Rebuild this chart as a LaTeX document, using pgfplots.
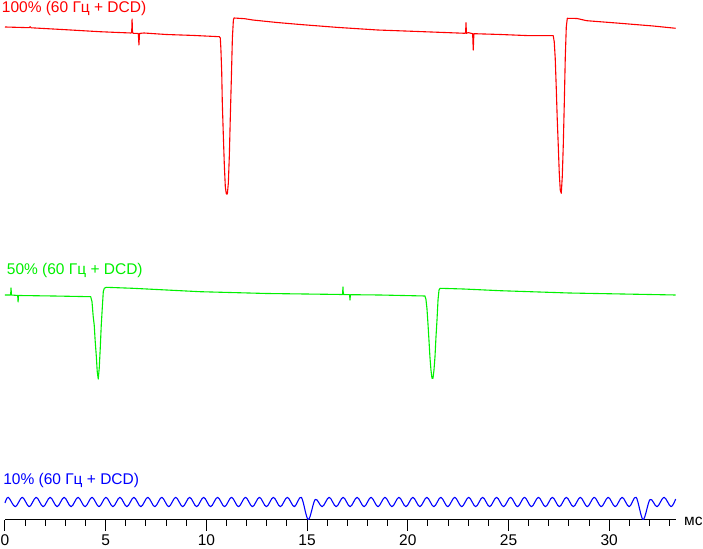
\documentclass[border=0pt]{standalone}
\usepackage{pgfplots}
\pgfplotsset{compat=1.18}
\usepackage{fontspec}
\setmainfont{Liberation Sans}
\definecolor{tred}{RGB}{255,0,0}
\definecolor{tgreen}{RGB}{0,240,0}
\definecolor{tblue}{RGB}{0,0,255}
\newcommand{\lf}{\fontsize{15.5}{18}\selectfont}
\begin{document}
\begin{tikzpicture}
\useasboundingbox (0,0) rectangle (703pt,548pt);
\begin{axis}[
  at={(5pt,28pt)}, anchor=south west,
  scale only axis, width=670.66pt, height=520pt,
  xmin=0, xmax=33.3, ymin=0, ymax=520,
  axis x line=bottom, axis y line=none,
  x axis line style={-, line width=1pt, black},
  xtick={0,5,10,15,20,25,30},
  minor xtick={1,2,3,4,6,7,8,9,11,12,13,14,16,17,18,19,21,22,23,24,26,27,28,29,31,32,33},
  tick align=outside,
  major tick length=11pt, minor tick length=6pt,
  every tick/.style={black, line width=1pt},
  /pgf/number format/assume math mode=true,
  xticklabel style={font=\lf, anchor=base, inner sep=0pt, yshift=-14.5pt},
  clip=false,
  every axis plot/.append style={line width=1.1pt, line join=round},
]
% 100%
\addplot[tred, sharp plot] coordinates {
(0,493) (1.2,492.3) (1.25,493.3) (1.3,492.2) (3.0,490.3) (4.7,488.3) (5.5,487.6) (6.25,487) (6.29,487.5) (6.31,501) (6.33,488.5) (6.36,486.7) (6.62,486.5) (6.65,475) (6.68,486.6) (6.9,487) (8.0,485.5) (9.3,484.6) (10.33,483.6) (10.64,483.3) (10.69,482) (10.72,471) (10.76,448) (10.79,417) (10.84,385) (10.89,355) (10.94,333) (10.99,326) (11.04,326) (11.09,337) (11.14,365) (11.19,405) (11.24,442) (11.29,482) (11.34,500) (11.37,502) (11.9,501.3) (12.3,500) (13.5,497.5) (14.65,495.5) (16.5,492.6) (17.96,490.7) (18.5,490) (20.5,488.5) (22.84,486.7) (22.87,487.5) (22.89,497.3) (22.91,486.7) (23.0,487.4) (23.22,486.3) (23.25,470) (23.28,486.3) (24.6,485.5) (26.07,484.3) (27.22,484.3) (27.27,478.3) (27.32,461.7) (27.37,432.7) (27.42,401) (27.47,375) (27.52,347.3) (27.57,330) (27.62,326.7) (27.67,343.3) (27.72,375) (27.77,416.7) (27.82,463.3) (27.87,493.3) (27.92,501.7) (28.40,501.5) (28.88,499.3) (30.54,496.7) (32.18,494) (33.3,491.7)
};
% 50%
\addplot[tgreen, sharp plot] coordinates {
(0,225) (0.28,225) (0.30,232) (0.32,225) (0.63,224.5) (0.65,218) (0.67,224.5) (2.4,224) (4.255,223.3) (4.32,218.3) (4.38,203.3) (4.43,195) (4.48,178.3) (4.53,165) (4.58,148.3) (4.63,141) (4.68,152) (4.73,172) (4.78,195) (4.83,212) (4.88,228.3) (4.93,231.7) (5.02,232.7) (6.35,231.7) (9.68,228.3) (13,226.5) (16.76,225.5) (16.78,233) (16.80,225.5) (17.11,225.3) (17.13,220) (17.15,225.3) (18.6,225) (20.85,224) (20.90,220.7) (20.95,211.7) (21.00,196.7) (21.05,180) (21.10,162.7) (21.15,150) (21.20,141.7) (21.25,141.7) (21.30,150) (21.35,163.3) (21.40,183.3) (21.45,200) (21.50,220) (21.55,230) (21.60,231.7) (22.76,231) (24.58,229.3) (28,227) (33.3,225)
};
% 10%
\addplot[tblue, smooth, tension=0.55] coordinates {
(0,17) (0.164,22.7) (0.510,13.3) (0.857,22.7) (1.203,13.3) (1.549,22.7) (1.896,13.3) (2.242,22.7) (2.588,13.3) (2.935,22.7) (3.281,13.3) (3.628,22.7) (3.974,13.3) (4.320,22.7) (4.667,13.3) (5.013,22.7) (5.359,13.3) (5.706,22.7) (6.052,13.3) (6.398,22.7) (6.745,13.3) (7.091,22.7) (7.437,13.3) (7.784,22.7) (8.130,13.3) (8.476,22.7) (8.823,13.3) (9.169,22.7) (9.516,13.3) (9.862,22.7) (10.208,13.3) (10.555,22.7) (10.901,13.3) (11.247,22.7) (11.594,13.3) (11.940,22.7) (12.286,13.3) (12.633,22.7) (12.979,13.3) (13.325,22.7) (13.672,13.3) (14.018,22.7) (14.365,13.3) (14.711,22.7) (15.057,0.5) (15.403,20.5) (15.750,13.3) (16.096,22.7) (16.443,13.3) (16.789,22.7) (17.135,13.3) (17.482,22.7) (17.828,13.3) (18.174,22.7) (18.521,13.3) (18.867,22.7) (19.213,13.3) (19.560,22.7) (19.906,13.3) (20.252,22.7) (20.599,13.3) (20.945,22.7) (21.292,13.3) (21.638,22.7) (21.984,13.3) (22.330,22.7) (22.677,13.3) (23.023,22.7) (23.370,13.3) (23.716,22.7) (24.062,13.3) (24.409,22.7) (24.755,13.3) (25.101,22.7) (25.448,13.3) (25.794,22.7) (26.140,13.3) (26.487,22.7) (26.833,13.3) (27.179,22.7) (27.526,13.3) (27.872,22.7) (28.219,13.3) (28.565,22.7) (28.911,13.3) (29.257,22.7) (29.604,13.3) (29.950,22.7) (30.297,13.3) (30.643,22.7) (30.989,13.3) (31.336,22.7) (31.682,0.5) (32.028,20.5) (32.375,13.3) (32.721,22.7) (33.067,13.3) (33.3,21)
};
\end{axis}
\node[anchor=base west, inner sep=0pt, text=tred, font=\lf] at (1.7pt,535.5pt) {100\% (60 Гц + DCD)};
\node[anchor=base west, inner sep=0pt, text=tgreen, font=\lf] at (6.7pt,273pt) {50\% (60 Гц + DCD)};
\node[anchor=base west, inner sep=0pt, text=tblue, font=\lf] at (3.1pt,63pt) {10\% (60 Гц + DCD)};
\node[anchor=base west, inner sep=0pt, font=\lf] at (684pt,22pt) {мс};
\end{tikzpicture}
\end{document}
